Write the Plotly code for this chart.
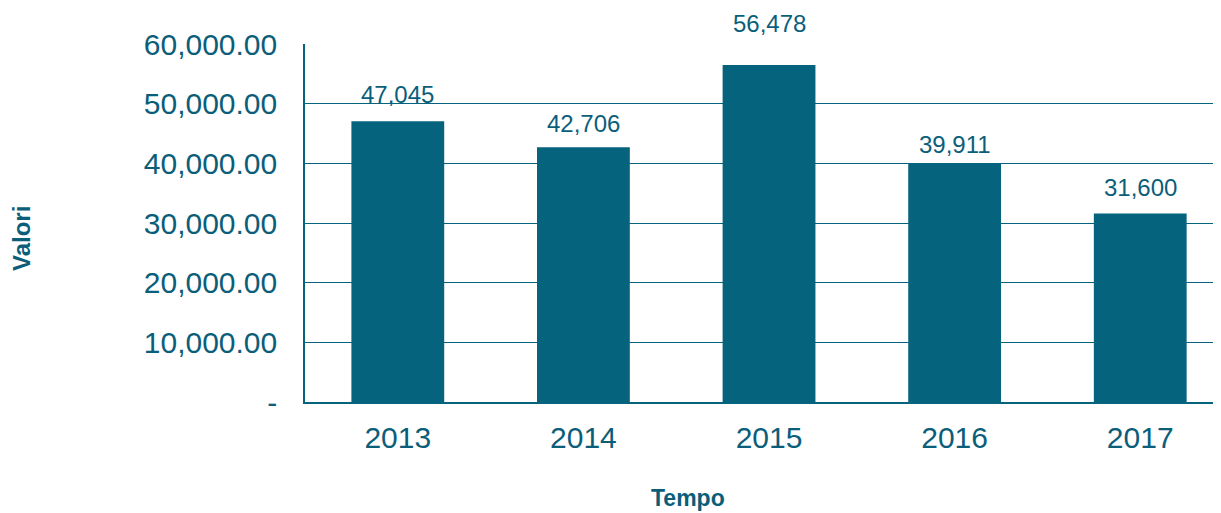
import plotly.graph_objects as go

years = ["2013", "2014", "2015", "2016", "2017"]
values = [47045, 42706, 56478, 39911, 31600]
value_labels = ["47,045", "42,706", "56,478", "39,911", "31,600"]
y_tickvals = [0, 10000, 20000, 30000, 40000, 50000, 60000]
y_ticktext = ["-", "10,000.00", "20,000.00", "30,000.00", "40,000.00", "50,000.00", "60,000.00"]

# label placement offsets above bar tops (pixels), styling only
label_yshift = [11, 8, 26, 4, 10]

BAR = "#05637E"
TXT = "#0B5E7A"
FONT = "Liberation Sans, Arial, sans-serif"

fig = go.Figure(go.Bar(x=years, y=values, marker=dict(color=BAR, line=dict(width=0))))

for i, (v, t) in enumerate(zip(values, value_labels)):
    fig.add_annotation(x=i, y=v, text=t, showarrow=False, yanchor="bottom", yshift=label_yshift[i],
                       font=dict(size=24, color=TXT, family=FONT))

fig.add_annotation(x=0, y=0.5, xref="paper", yref="paper", text="<b>Valori</b>", textangle=-90,
                   showarrow=False, xanchor="center", yanchor="middle", xshift=-284, yshift=-16,
                   font=dict(size=24, color=TXT, family=FONT))
fig.add_annotation(x=0, y=0, xref="paper", yref="paper", text="<b>Tempo</b>",
                   showarrow=False, xanchor="center", yanchor="middle", xshift=383, yshift=-96,
                   font=dict(size=23, color=TXT, family=FONT))

fig.update_layout(
    width=1205, height=505,
    margin=dict(l=297, r=0, t=36, b=111),
    paper_bgcolor="white", plot_bgcolor="white",
    bargap=0.5, showlegend=False,
    font=dict(family=FONT, color=TXT),
)
fig.update_xaxes(type="category", range=[-0.5, 4.392], showline=True, linecolor=BAR, linewidth=1.5,
                 showgrid=False, ticks="", tickfont=dict(size=30, color=TXT),
                 ticklabelstandoff=8)
fig.update_yaxes(range=[0, 60000], tickvals=y_tickvals, ticktext=y_ticktext,
                 showline=True, linecolor=BAR, linewidth=1.5,
                 showgrid=True, gridcolor=BAR, gridwidth=1.2, zeroline=False,
                 ticks="", tickfont=dict(size=30, color=TXT), ticklabelstandoff=20)

fig.write_html("out.html")
